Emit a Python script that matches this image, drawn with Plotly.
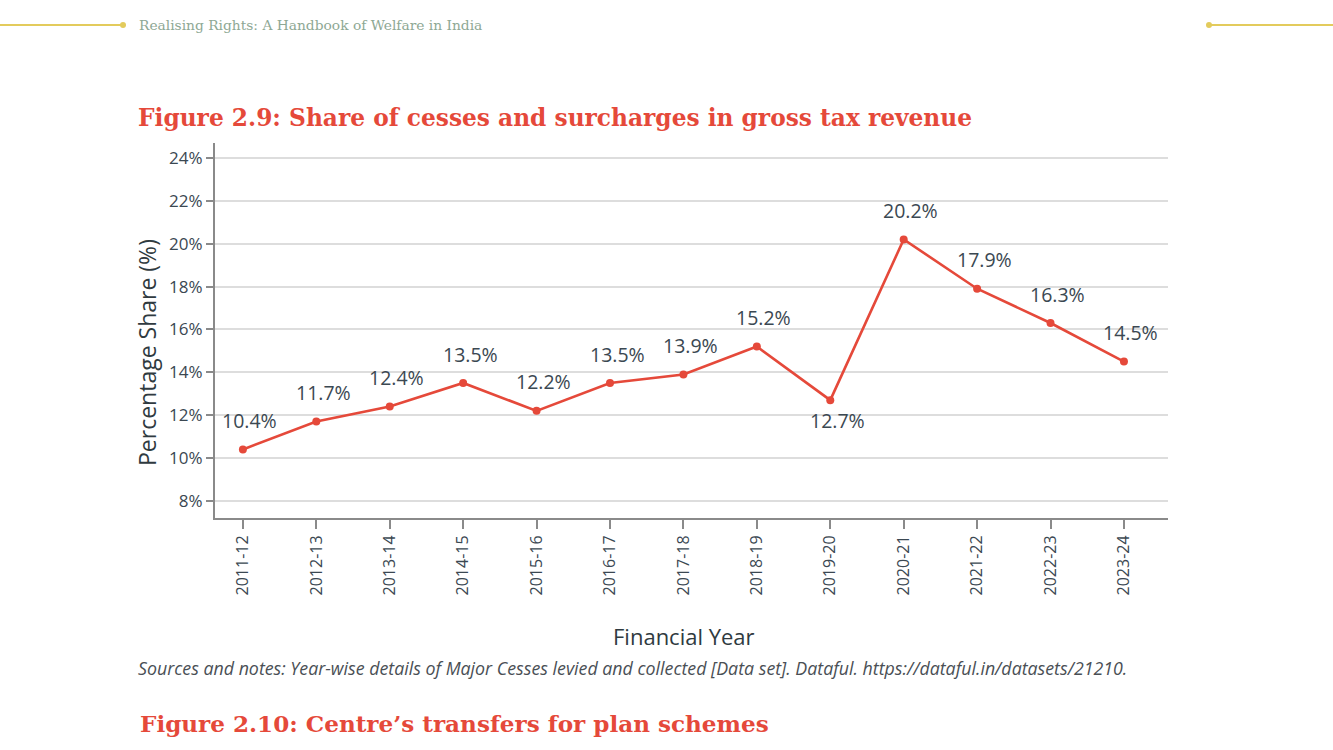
import plotly.graph_objects as go

years = ["2011-12", "2012-13", "2013-14", "2014-15", "2015-16", "2016-17", "2017-18",
         "2018-19", "2019-20", "2020-21", "2021-22", "2022-23", "2023-24"]
share = [10.4, 11.7, 12.4, 13.5, 12.2, 13.5, 13.9, 15.2, 12.7, 20.2, 17.9, 16.3, 14.5]
label_below = ["2019-20"]
y_ticks = [8, 10, 12, 14, 16, 18, 20, 22, 24]

RED = "#e5493a"
INK = "#3b4852"
GOLD = "#e3cb5c"
SANS = "Open Sans"

# plot area in pixels (1333x750 page)
L, R, T, B = 215, 1168, 143, 518


def px(x):
    return (x - L) / (R - L)


def py(y):
    return (B - y) / (B - T)


fig = go.Figure()
fig.add_trace(go.Scatter(
    x=list(range(len(years))), y=share, mode="lines+markers",
    line=dict(color=RED, width=2.6),
    marker=dict(color=RED, size=8),
    hoverinfo="skip", showlegend=False,
))

annotations = []
for i, (yr, v) in enumerate(zip(years, share)):
    below = yr in label_below
    annotations.append(dict(
        x=i, y=v, xref="x", yref="y", text=f"{v:.1f}%", showarrow=False,
        xshift=7, yshift=-20 if below else 29,
        font=dict(family=SANS, size=19.5, color=INK),
    ))

annotations += [
    dict(x=px(137), y=py(25), xref="paper", yref="paper", xanchor="left", yanchor="middle",
         text="Realising Rights: A Handbook of Welfare in India", showarrow=False,
         font=dict(family="DejaVu Serif", size=13.8, color="#8ea894")),
    dict(x=px(136), y=py(117), xref="paper", yref="paper", xanchor="left", yanchor="middle",
         text="<b>Figure 2.9: Share of cesses and surcharges in gross tax revenue</b>",
         showarrow=False, font=dict(family="DejaVu Serif", size=23.3, color=RED)),
    # axis titles (placed as in the original, slightly off-centre)
    dict(x=px(147), y=py(353), xref="paper", yref="paper", xanchor="center", yanchor="middle",
         text="Percentage Share (%)", textangle=-90, showarrow=False,
         font=dict(family=SANS, size=23, color="#2f3a40")),
    dict(x=px(684), y=py(636), xref="paper", yref="paper", xanchor="center", yanchor="middle",
         text="Financial Year", showarrow=False,
         font=dict(family=SANS, size=22, color="#2f3a40")),
    dict(x=px(136), y=py(668), xref="paper", yref="paper", xanchor="left", yanchor="middle",
         text="<i>Sources and notes: Year-wise details of Major Cesses levied and collected "
              "[Data set]. Dataful. https://dataful.in/datasets/21210.</i>",
         showarrow=False, font=dict(family=SANS, size=17.8, color="#4a4f55")),
    dict(x=px(138), y=py(723), xref="paper", yref="paper", xanchor="left", yanchor="middle",
         text="<b>Figure 2.10: Centre’s transfers for plan schemes</b>",
         showarrow=False, font=dict(family="DejaVu Serif", size=23.1, color=RED)),
]

shapes = [
    dict(type="line", xref="paper", yref="paper", x0=px(0), x1=px(123), y0=py(25), y1=py(25),
         line=dict(color=GOLD, width=2)),
    dict(type="circle", xref="paper", yref="paper", x0=px(120), x1=px(126), y0=py(22), y1=py(28),
         fillcolor=GOLD, line=dict(color=GOLD, width=0)),
    dict(type="line", xref="paper", yref="paper", x0=px(1209), x1=px(1333), y0=py(25), y1=py(25),
         line=dict(color=GOLD, width=2)),
    dict(type="circle", xref="paper", yref="paper", x0=px(1206), x1=px(1212), y0=py(22), y1=py(28),
         fillcolor=GOLD, line=dict(color=GOLD, width=0)),
]

fig.update_layout(
    width=1333, height=750,
    margin=dict(l=L, r=1333 - R, t=T, b=750 - B),
    paper_bgcolor="white", plot_bgcolor="white",
    annotations=annotations, shapes=shapes,
    xaxis=dict(
        tickmode="array", tickvals=list(range(len(years))), ticktext=years,
        tickangle=-90, range=[-0.38, 12.6],
        showline=True, linecolor="#8a8a8a", linewidth=2,
        ticks="outside", ticklen=9, tickcolor="#8a8a8a", tickwidth=2,
        showgrid=False, zeroline=False,
        tickfont=dict(family=SANS, size=16, color=INK),
    ),
    yaxis=dict(
        range=[7.2, 24.7], tickmode="array", tickvals=y_ticks,
        ticktext=[f"{t}%" for t in y_ticks],
        showline=True, linecolor="#8a8a8a", linewidth=2,
        ticks="outside", ticklen=7, tickcolor="#8a8a8a", tickwidth=2,
        showgrid=True, gridcolor="#dddddd", gridwidth=1.5, zeroline=False,
        tickfont=dict(family=SANS, size=17, color=INK),
    ),
)

fig.write_html("out.html", config={"displayModeBar": False},
               post_script="document.body.style.margin='0';")
